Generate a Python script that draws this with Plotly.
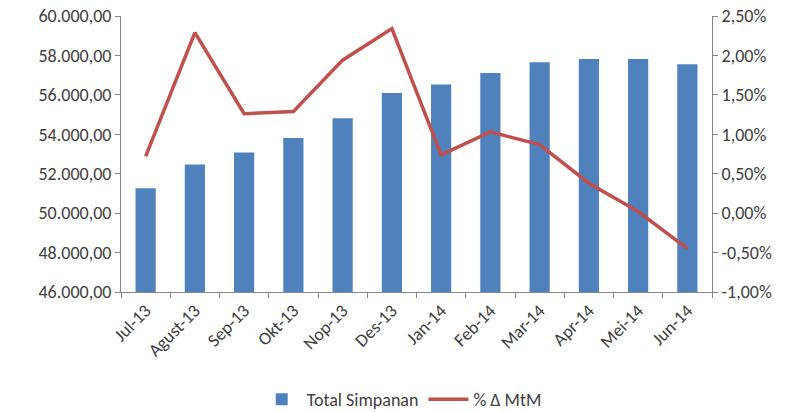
import plotly.graph_objects as go

months = ["Jul-13", "Agust-13", "Sep-13", "Okt-13", "Nop-13", "Des-13",
          "Jan-14", "Feb-14", "Mar-14", "Apr-14", "Mei-14", "Jun-14"]
total_simpanan = [51260, 52470, 53080, 53810, 54810, 56090,
                  56530, 57110, 57650, 57820, 57820, 57550]
mtm_pct = [0.72, 2.29, 1.26, 1.29, 1.94, 2.34,
           0.74, 1.03, 0.87, 0.38, 0.02, -0.45]

left_ticks = [46000, 48000, 50000, 52000, 54000, 56000, 58000, 60000]
left_text = ["46.000,00", "48.000,00", "50.000,00", "52.000,00",
             "54.000,00", "56.000,00", "58.000,00", "60.000,00"]
right_ticks = [-1.0, -0.5, 0.0, 0.5, 1.0, 1.5, 2.0, 2.5]
right_text = ["-1,00%", "-0,50%", "0,00%", "0,50%", "1,00%", "1,50%", "2,00%", "2,50%"]

font_fam = "Carlito, 'Liberation Sans', Arial, sans-serif"
txt_col = "#404040"
axis_col = "#868686"
fs = 18

fig = go.Figure()
fig.add_trace(go.Bar(x=months, y=total_simpanan, name="Total Simpanan",
                     marker=dict(color="#4F81BD", line=dict(width=0)),
                     yaxis="y"))
fig.add_trace(go.Scatter(x=months, y=mtm_pct, name="% \u0394 MtM", mode="lines",
                         line=dict(color="#C0504D", width=3.5),
                         yaxis="y2"))

fig.update_layout(
    width=796, height=412,
    margin=dict(l=121, r=84, t=16, b=120, autoexpand=False),
    paper_bgcolor="white", plot_bgcolor="white",
    font=dict(family=font_fam, size=fs, color=txt_col),
    bargap=0.59,
    showlegend=True,
    legend=dict(orientation="h", x=0.475, xanchor="center", y=-0.39, yanchor="middle",
                font=dict(size=fs, color=txt_col), traceorder="normal",
                itemwidth=40, bgcolor="rgba(0,0,0,0)"),
    xaxis=dict(type="category", showline=True, linecolor=axis_col, linewidth=1,
               ticks="outside", tickson="boundaries", ticklen=5, tickcolor=axis_col,
               tickangle=-45, showgrid=False, zeroline=False,
               tickfont=dict(size=fs, color=txt_col)),
    yaxis=dict(range=[46000, 60000], tickvals=left_ticks, ticktext=left_text,
               showline=True, linecolor=axis_col, linewidth=1,
               ticks="outside", ticklen=5, tickcolor=axis_col,
               showgrid=False, zeroline=False,
               tickfont=dict(size=fs, color=txt_col)),
    yaxis2=dict(range=[-1.0, 2.5], tickvals=right_ticks, ticktext=right_text,
                overlaying="y", side="right",
                showline=True, linecolor=axis_col, linewidth=1,
                ticks="outside", ticklen=5, tickcolor=axis_col,
                showgrid=False, zeroline=False,
                tickfont=dict(size=fs, color=txt_col)),
)

fig.write_html("out.html", config={"displayModeBar": False},
               post_script="document.body.style.margin='0';document.body.style.overflow='hidden';")
